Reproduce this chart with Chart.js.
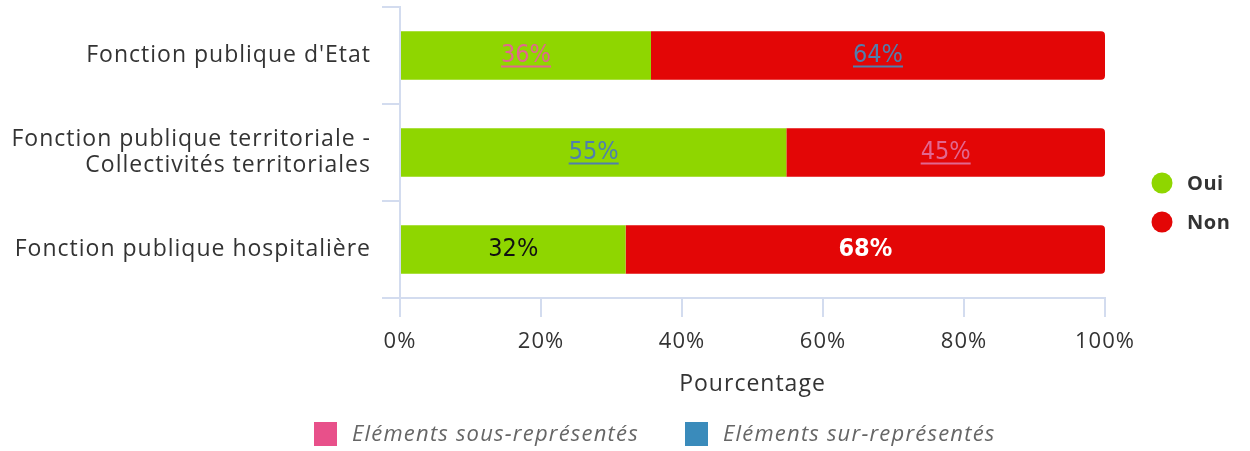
<!DOCTYPE html>
<html>
<head>
<meta charset="utf-8">
<script src="https://cdn.jsdelivr.net/npm/chart.js@4"></script>
<style>
  html, body { margin: 0; padding: 0; background: #fff; }
  #wrap { width: 1250px; height: 451px; position: relative; }
</style>
</head>
<body>
<div id="wrap"><canvas id="graf"></canvas></div>
<script>
// donnees du graphique
var categories = [
  "Fonction publique d'Etat",
  ["Fonction publique territoriale -", "Collectivités territoriales"],
  "Fonction publique hospitalière"
];
var valeursOui = [35.6, 54.8, 32.0];
var valeursNon = [64.4, 45.2, 68.0];
var etiquettesOui = ["36%", "55%", "32%"];
var etiquettesNon = ["64%", "45%", "68%"];
// 'sous' = sous-représenté, 'sur' = sur-représenté, '' = normal
var marquesOui = ["sous", "sur", ""];
var marquesNon = ["sur", "sous", ""];
var ticksX = [0, 20, 40, 60, 80, 100];

var VERT = '#8fd600';
var ROUGE = '#e30606';
var ROSE = '#e8508a';
var BLEU = '#3a8bbb';
var GRILLE = '#d3dcef';
var FONT = "'Open Sans', sans-serif";
var FONT_ETIQ = "'Liberation Sans Narrow', 'DejaVu Sans Condensed', 'Roboto', sans-serif";
var ESPACE = '1px';

// espacement des lettres un peu plus large (comme la police d'origine)
var espacementPlugin = {
  id: 'espacement',
  beforeUpdate: function(chart) { chart.ctx.letterSpacing = ESPACE; },
  beforeDraw: function(chart) { chart.ctx.letterSpacing = ESPACE; }
};

// plugin: etiquettes dans les barres
var etiquettesPlugin = {
  id: 'etiquettes',
  afterDatasetsDraw: function(chart) {
    var ctx = chart.ctx;
    ctx.save();
    ctx.letterSpacing = '0px';
    ctx.textAlign = 'center';
    ctx.textBaseline = 'middle';
    chart.data.datasets.forEach(function(ds, di) {
      var meta = chart.getDatasetMeta(di);
      meta.data.forEach(function(bar, i) {
        var txt = di === 0 ? etiquettesOui[i] : etiquettesNon[i];
        var marque = di === 0 ? marquesOui[i] : marquesNon[i];
        var x = (bar.x + bar.base) / 2;
        var y = bar.y;
        var couleur;
        if (marque === 'sous') couleur = '#e2668f';
        else if (marque === 'sur') couleur = '#4f7fae';
        else couleur = di === 0 ? '#111' : '#fff';
        ctx.font = (marque === '' && di === 1 ? 'bold ' : '') + '25px ' + FONT_ETIQ;
        ctx.fillStyle = couleur;
        ctx.fillText(txt, x, y);
        if (marque !== '') {
          var w = ctx.measureText(txt).width;
          ctx.fillRect(x - w / 2, y + 10, w, 2);
        }
      });
    });
    ctx.restore();
  }
};

// plugin: legendes (droite + bas)
var legendesPlugin = {
  id: 'legendes',
  afterDraw: function(chart) {
    var ctx = chart.ctx;
    ctx.save();
    // legende droite
    var items = [{ c: VERT, t: 'Oui', y: 183 }, { c: ROUGE, t: 'Non', y: 222 }];
    items.forEach(function(it) {
      ctx.fillStyle = it.c;
      ctx.beginPath();
      ctx.arc(1162, it.y, 10.5, 0, Math.PI * 2);
      ctx.fill();
      ctx.fillStyle = '#333';
      ctx.letterSpacing = '0.5px';
      ctx.font = 'bold 20px ' + FONT;
      ctx.textAlign = 'left';
      ctx.textBaseline = 'middle';
      ctx.fillText(it.t, 1187, it.y + 1);
    });
    // legende bas
    var bas = [{ c: ROSE, t: 'Eléments sous-représentés', x: 314 }, { c: BLEU, t: 'Eléments sur-représentés', x: 685 }];
    bas.forEach(function(it) {
      ctx.fillStyle = it.c;
      ctx.fillRect(it.x, 422, 23, 24);
      ctx.fillStyle = '#666';
      ctx.letterSpacing = '1.2px';
      ctx.font = 'italic 22px ' + FONT;
      ctx.textAlign = 'left';
      ctx.textBaseline = 'middle';
      ctx.fillText(it.t, it.x + 38, 435);
    });
    ctx.restore();
  }
};

var ctx = document.getElementById('graf').getContext('2d');
new Chart(ctx, {
  type: 'bar',
  data: {
    labels: categories,
    datasets: [
      { label: 'Oui', data: valeursOui, backgroundColor: VERT, barPercentage: 0.5, categoryPercentage: 1,
        borderRadius: 0, borderSkipped: false },
      { label: 'Non', data: valeursNon, backgroundColor: ROUGE, barPercentage: 0.5, categoryPercentage: 1,
        borderRadius: { topLeft: 0, bottomLeft: 0, topRight: 4, bottomRight: 4 }, borderSkipped: false }
    ]
  },
  options: {
    indexAxis: 'y',
    responsive: true,
    maintainAspectRatio: false,
    animation: false,
    layout: { padding: { top: 7, right: 145, bottom: 50, left: 0 } },
    plugins: {
      legend: { display: false },
      tooltip: { enabled: false }
    },
    scales: {
      x: {
        stacked: true,
        min: 0,
        max: 100,
        afterBuildTicks: function(scale) {
          scale.ticks = ticksX.map(function(v) { return { value: v }; });
        },
        ticks: {
          callback: function(v) { return v + '%'; },
          color: '#333',
          font: { family: FONT, size: 22 },
          padding: 12,
          maxRotation: 0
        },
        grid: { drawOnChartArea: false, color: GRILLE, tickLength: 19, lineWidth: 2 },
        border: { color: GRILLE, width: 2 },
        title: { display: true, text: 'Pourcentage', color: '#333', font: { family: FONT, size: 23 }, padding: { top: 4, bottom: 3 } },
        afterFit: function(scale) { scale.height = 451 - 50 - 298; }
      },
      y: {
        stacked: true,
        ticks: {
          color: '#333',
          font: { family: FONT, size: 23, lineHeight: 1.15 },
          padding: 11
        },
        grid: { drawOnChartArea: false, color: GRILLE, tickLength: 18, lineWidth: 2, offset: true },
        border: { color: GRILLE, width: 2 },
        afterFit: function(scale) {
          scale.width = 400;
          scale.paddingTop = 0;
          scale.paddingBottom = 0;
        }
      }
    }
  },
  plugins: [espacementPlugin, etiquettesPlugin, legendesPlugin]
});
</script>
</body>
</html>
